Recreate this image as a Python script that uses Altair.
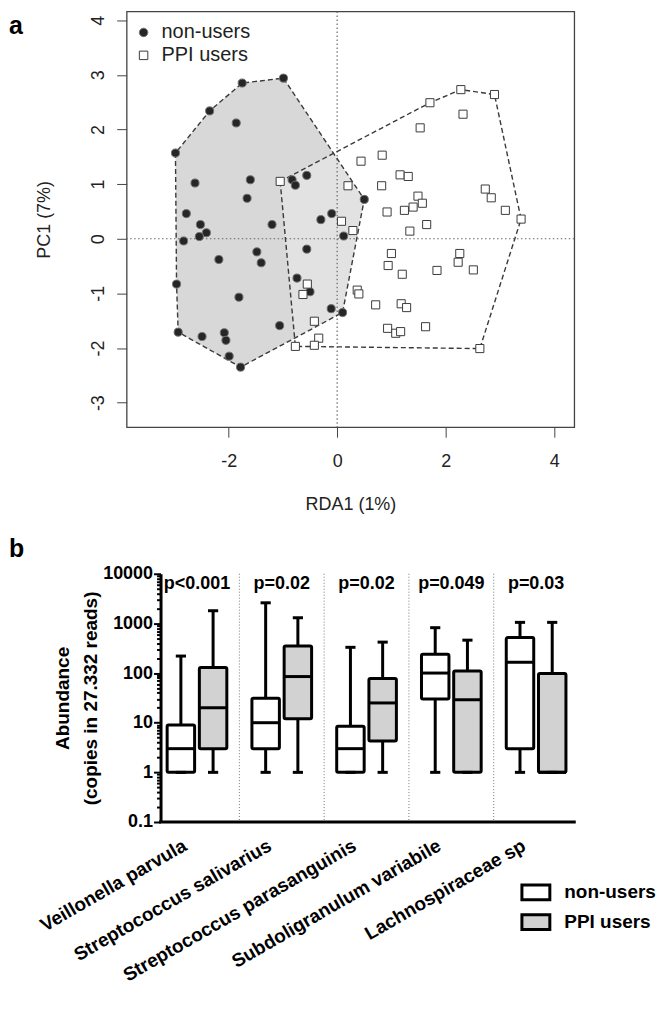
import json
import altair as alt
import pandas as pd

# ---------------- Panel a: ordination scores ----------------
group_names = ["non-users", "PPI users"]

nonusers_x = [-2.98, -2.35, -1.86, -1.75, -0.99, -2.62, -1.60, -1.66, -2.78, -2.52,
              -2.41, -2.54, -2.83, -1.20, -0.83, -0.77, -0.56, -0.30, -0.10, 0.50,
              0.12, -0.56, -2.18, -1.48, -1.40, -2.96, -1.81, -0.74, -0.50, -0.11,
              0.10, -1.06, -2.93, -2.49, -2.08, -2.05, -1.99, -1.78]
nonusers_y = [1.57, 2.34, 2.12, 2.85, 2.94, 1.02, 1.08, 0.74, 0.46, 0.26,
              0.11, 0.04, -0.04, 0.26, 1.08, 0.98, 1.16, 0.35, 0.46, 0.72,
              0.05, -0.19, -0.38, -0.24, -0.44, -0.83, -1.07, -0.72, -0.97, -1.28,
              -1.35, -1.59, -1.71, -1.79, -1.72, -1.86, -2.15, -2.35]
ppi_x = [-1.05, 1.71, 2.28, 2.90, 2.32, 1.53, 0.83, 0.44, 1.16, 1.31,
         0.82, 0.20, 1.49, 1.57, 1.40, 1.24, 0.92, 1.65, 1.34, 2.73,
         2.84, 3.10, 3.39, 0.08, 0.29, 1.00, 0.94, 1.20, 1.84, 2.26,
         2.23, 2.51, 0.37, 0.40, 0.71, 1.18, 1.28, 1.63, 0.93, 1.08,
         1.17, 2.63, -0.42, -0.34, -0.42, -0.55, -0.63, -0.77]
ppi_y = [1.05, 2.49, 2.73, 2.64, 2.28, 2.03, 1.53, 1.42, 1.17, 1.14,
         0.97, 0.97, 0.78, 0.65, 0.58, 0.52, 0.49, 0.26, 0.14, 0.91,
         0.75, 0.52, 0.36, 0.32, 0.15, -0.27, -0.49, -0.65, -0.58, -0.27,
         -0.43, -0.57, -0.94, -1.01, -1.21, -1.19, -1.26, -1.61, -1.64, -1.73,
         -1.70, -2.01, -1.51, -1.82, -1.95, -0.83, -1.02, -1.97]

xa_ticks = [-2, 0, 2, 4]
ya_ticks = [-3, -2, -1, 0, 1, 2, 3, 4]
panel_letters = ["a", "b"]

# ---------------- Panel b: abundance box plots ----------------
categories = ["Veillonella parvula", "Streptococcus salivarius",
              "Streptococcus parasanguinis", "Subdoligranulum variabile",
              "Lachnospiraceae sp"]
p_labels = ["p<0.001", "p=0.02", "p=0.02", "p=0.049", "p=0.03"]

nu_low = [1, 1, 1, 1, 1]
nu_q1 = [1, 3, 1, 30, 3]
nu_med = [3, 10, 3, 100, 165]
nu_q3 = [9, 31, 8.5, 240, 520]
nu_high = [220, 2600, 330, 820, 1050]

ppi_low = [1, 1, 1, 1, 1]
ppi_q1 = [3, 12, 4.3, 1, 1]
ppi_med = [20, 85, 25, 29, 1]
ppi_q3 = [130, 350, 78, 110, 98]
ppi_high = [1800, 1300, 420, 460, 1050]

yb_majors = [0.1, 1, 10, 100, 1000, 10000]


# ---------------- helpers ----------------
def convex_hull(points):
    pts = sorted(set(points))

    def cross(o, a, b):
        return (a[0] - o[0]) * (b[1] - o[1]) - (a[1] - o[1]) * (b[0] - o[0])

    lower, upper = [], []
    for p in pts:
        while len(lower) >= 2 and cross(lower[-2], lower[-1], p) <= 0:
            lower.pop()
        lower.append(p)
    for p in reversed(pts):
        while len(upper) >= 2 and cross(upper[-2], upper[-1], p) <= 0:
            upper.pop()
        upper.append(p)
    return lower[:-1] + upper[:-1]


FONT = "Liberation Sans"
HYPHEN_EXPR = "datum.value < 0 ? '-' + abs(datum.value) : '' + datum.value"

# ================= PANEL A =================
XA_DOM = [-3.88, 4.37]
YA_DOM = [-3.45, 4.16]
WA, HA = 449, 417

pts_df = pd.DataFrame({
    "x": nonusers_x + ppi_x,
    "y": nonusers_y + ppi_y,
    "group": [group_names[0]] * len(nonusers_x) + [group_names[1]] * len(ppi_x),
})

hull_rows = []
for g, xs, ys in [(group_names[0], nonusers_x, nonusers_y), (group_names[1], ppi_x, ppi_y)]:
    for k, (hx, hy) in enumerate(convex_hull(list(zip(xs, ys)))):
        hull_rows.append({"x": hx, "y": hy, "group": g, "order": k})
hull_df = pd.DataFrame(hull_rows)
ref_df = pd.DataFrame({"x": [0], "y": [0]})

axis_xa = alt.Axis(values=xa_ticks, labelExpr=HYPHEN_EXPR, tickSize=10,
                   tickColor="#444", tickWidth=1, domain=False, grid=False,
                   labelFontSize=18, labelFont=FONT, labelColor="#222",
                   labelPadding=15, titleFontSize=18, titleFont=FONT,
                   titleFontWeight="normal", titleColor="#222", titlePadding=26)
axis_ya = alt.Axis(values=ya_ticks, labelExpr=HYPHEN_EXPR, tickSize=10,
                   tickColor="#444", tickWidth=1, domain=False, grid=False,
                   labelFontSize=18, labelFont=FONT, labelColor="#222",
                   labelAngle=-90, labelAlign="center", labelBaseline="bottom",
                   labelPadding=9, titleFontSize=18, titleFont=FONT,
                   titleFontWeight="normal", titleColor="#222", titlePadding=36)


def xa(field):
    return alt.X(field, type="quantitative",
                 scale=alt.Scale(domain=XA_DOM, nice=False, zero=False),
                 axis=axis_xa, title="RDA1 (1%)")


def ya(field):
    return alt.Y(field, type="quantitative",
                 scale=alt.Scale(domain=YA_DOM, nice=False, zero=False),
                 axis=axis_ya, title="PC1 (7%)")


hull_nu_fill = alt.Chart(hull_df).transform_filter(
    alt.datum.group == group_names[0]
).mark_line(interpolate="linear-closed", fill="#d8d8d8", strokeWidth=0).encode(
    x=xa("x"), y=ya("y"), order=alt.Order("order:Q"))

hull_ppi_fill = alt.Chart(hull_df).transform_filter(
    alt.datum.group == group_names[1]
).mark_line(interpolate="linear-closed", fill="#ffffff", fillOpacity=0.25,
            strokeWidth=0).encode(
    x=xa("x"), y=ya("y"), order=alt.Order("order:Q"))

hull_lines = alt.Chart(hull_df).mark_line(
    interpolate="linear-closed", stroke="#3a3a3a", strokeWidth=1.4,
    strokeDash=[5, 3]).encode(
    x=xa("x"), y=ya("y"), detail="group:N", order=alt.Order("order:Q"))

vref = alt.Chart(ref_df).mark_rule(color="#666", strokeWidth=1.2,
                                   strokeDash=[1.5, 2.5]).encode(x=xa("x"))
href = alt.Chart(ref_df).mark_rule(color="#666", strokeWidth=1.2,
                                   strokeDash=[1.5, 2.5]).encode(y=ya("y"))

leg_a = alt.Legend(title=None, orient="none", legendX=7, legendY=11,
                   labelFontSize=20, labelFont=FONT, labelColor="#222",
                   symbolSize=72, symbolStrokeWidth=1, labelOffset=8,
                   rowPadding=3, padding=0)

points = alt.Chart(pts_df).mark_point(size=66, strokeWidth=1, opacity=1).encode(
    x=xa("x"), y=ya("y"),
    shape=alt.Shape("group:N", scale=alt.Scale(domain=group_names, range=["circle", "square"]), legend=leg_a),
    fill=alt.Fill("group:N", scale=alt.Scale(domain=group_names, range=["#262626", "#ffffff"]), legend=leg_a),
    stroke=alt.Stroke("group:N", scale=alt.Scale(domain=group_names, range=["#707070", "#3c3c3c"]), legend=leg_a),
)

letter_a = alt.Chart(pd.DataFrame({"t": [panel_letters[0]]})).mark_text(
    fontSize=25, fontWeight="bold", font=FONT, align="left", baseline="middle",
    color="black").encode(text="t:N", x=alt.value(-118), y=alt.value(14.5))

panel_a = alt.layer(hull_nu_fill, hull_ppi_fill, vref, href, hull_lines, points,
                    letter_a).properties(
    width=WA, height=HA,
    view=alt.ViewBackground(stroke="#444", strokeWidth=1.3))

# ================= PANEL B =================
STEP_B = 85.04                      # px per category
AXIS_SHIFT = 34                     # y axis sits this far right of panel a's left edge
XB_AXIS = [-0.43, 4.45]             # extent of the drawn x axis line
XB_DOM = [XB_AXIS[0] - AXIS_SHIFT / STEP_B, XB_AXIS[1]]
WB = round((XB_DOM[1] - XB_DOM[0]) * STEP_B)
HB = 249
GROUP_SHIFT = 0.19
BOX_HALF = 0.162
CAP_HALF = 0.06

rows = []
for i, cat in enumerate(categories):
    for g, shift, stats in [
        (group_names[0], -GROUP_SHIFT, (nu_low, nu_q1, nu_med, nu_q3, nu_high)),
        (group_names[1], GROUP_SHIFT, (ppi_low, ppi_q1, ppi_med, ppi_q3, ppi_high)),
    ]:
        c = i + shift
        rows.append({"cat": cat, "group": g, "xc": c,
                     "x0": c - BOX_HALF, "x1": c + BOX_HALF,
                     "c0": c - CAP_HALF, "c1": c + CAP_HALF,
                     "lo": stats[0][i], "q1": stats[1][i], "med": stats[2][i],
                     "q3": stats[3][i], "hi": stats[4][i]})
box_df = pd.DataFrame(rows)
p_df = pd.DataFrame({"idx": list(range(len(categories))), "p": p_labels})
sep_df = pd.DataFrame({"s": [i + 0.5 for i in range(len(categories) - 1)]})
axisline_df = pd.DataFrame({"a0": [XB_AXIS[0]], "a1": [XB_AXIS[1]], "y": [yb_majors[0]]})

yb_vals = []
for k in range(len(yb_majors) - 1):
    for m in range(1, 10):
        yb_vals.append(round(yb_majors[k] * m, 6))
yb_vals.append(yb_majors[-1])

label_expr_x = json.dumps(categories) + "[datum.value]"
major_test = "abs(log(datum.value)/LN10 - round(log(datum.value)/LN10)) < 0.001"

axis_xb = alt.Axis(values=list(range(len(categories))), labelExpr=label_expr_x,
                   ticks=False, domain=False, grid=False,
                   labelAngle=-30, labelAlign="right", labelBaseline="top",
                   labelFontSize=19, labelFontWeight="bold", labelFont=FONT,
                   labelColor="black", labelOffset=-17, labelPadding=14,
                   labelOverlap=False, labelFlush=False, labelLimit=500)
axis_yb = alt.Axis(values=yb_vals, offset=-AXIS_SHIFT,
                   labelExpr=major_test + " ? format(datum.value, '~g') : ''",
                   tickSize={"condition": {"test": major_test, "value": 7}, "value": 4},
                   tickWidth=2, tickColor="black", domainWidth=3,
                   domainColor="black", grid=False, labelFontSize=18,
                   labelFontWeight="bold", labelFont=FONT, labelColor="black",
                   labelPadding=1, labelOverlap=False, titleFontSize=19,
                   titleFontWeight="bold", titleFont=FONT, titleColor="black",
                   titleLineHeight=28, titlePadding=2)


def xb(field):
    return alt.X(field, type="quantitative",
                 scale=alt.Scale(domain=XB_DOM, nice=False, zero=False),
                 axis=axis_xb, title=None)


def yb(field):
    return alt.Y(field, type="quantitative",
                 scale=alt.Scale(type="log", domain=[yb_majors[0], yb_majors[-1]], nice=False),
                 axis=axis_yb, title=["Abundance", "(copies in 27.332 reads)"])


seps = alt.Chart(sep_df).mark_rule(color="#777", strokeWidth=1,
                                   strokeDash=[1, 2]).encode(x=xb("s"))
xline = alt.Chart(axisline_df).mark_rule(color="black", strokeWidth=3,
                                         strokeCap="square").encode(
    x=xb("a0"), x2="a1", y=yb("y"))
whiskers = alt.Chart(box_df).mark_rule(color="black", strokeWidth=3).encode(
    x=xb("xc"), y=yb("lo"), y2="hi")

leg_b = alt.Legend(title=None, orient="none", legendX=361 + AXIS_SHIFT, legendY=304,
                   symbolType="M-1,-0.53H1V0.53H-1Z", symbolSize=784,
                   symbolStrokeColor="black", symbolStrokeWidth=3,
                   labelFontSize=19, labelFontWeight="bold", labelFont=FONT,
                   labelColor="black", labelOffset=13, rowPadding=1, padding=0)

boxes = alt.Chart(box_df).mark_rect(stroke="black", strokeWidth=3,
                                    cornerRadius=1.5).encode(
    x=xb("x0"), x2="x1", y=yb("q1"), y2="q3",
    fill=alt.Fill("group:N", scale=alt.Scale(domain=group_names, range=["#ffffff", "#d2d2d2"]), legend=leg_b))
medians = alt.Chart(box_df).mark_rule(color="black", strokeWidth=3).encode(
    x=xb("x0"), x2="x1", y=yb("med"))
caps_hi = alt.Chart(box_df).mark_rule(color="black", strokeWidth=3).encode(
    x=xb("c0"), x2="c1", y=yb("hi"))
caps_lo = alt.Chart(box_df).mark_rule(color="black", strokeWidth=3).encode(
    x=xb("c0"), x2="c1", y=yb("lo"))
ptext = alt.Chart(p_df).mark_text(fontSize=18, fontWeight="bold", font=FONT,
                                  baseline="middle", color="black").encode(
    x=xb("idx"), y=alt.value(10), text="p:N")
letter_b = alt.Chart(pd.DataFrame({"t": [panel_letters[1]]})).mark_text(
    fontSize=25, fontWeight="bold", font=FONT, align="left", baseline="middle",
    color="black").encode(text="t:N", x=alt.value(-118), y=alt.value(-25))

panel_b = alt.layer(seps, xline, whiskers, boxes, medians, caps_hi, caps_lo,
                    ptext, letter_b).properties(width=WB, height=HB)

chart = alt.concat(panel_a, panel_b, columns=1, spacing=21).resolve_scale(
    x="independent", y="independent", fill="independent",
    stroke="independent", shape="independent"
).properties(padding=0).configure(font=FONT).configure_view(stroke="transparent")

chart.save("out.html", embed_options={"renderer": "svg", "actions": False})
